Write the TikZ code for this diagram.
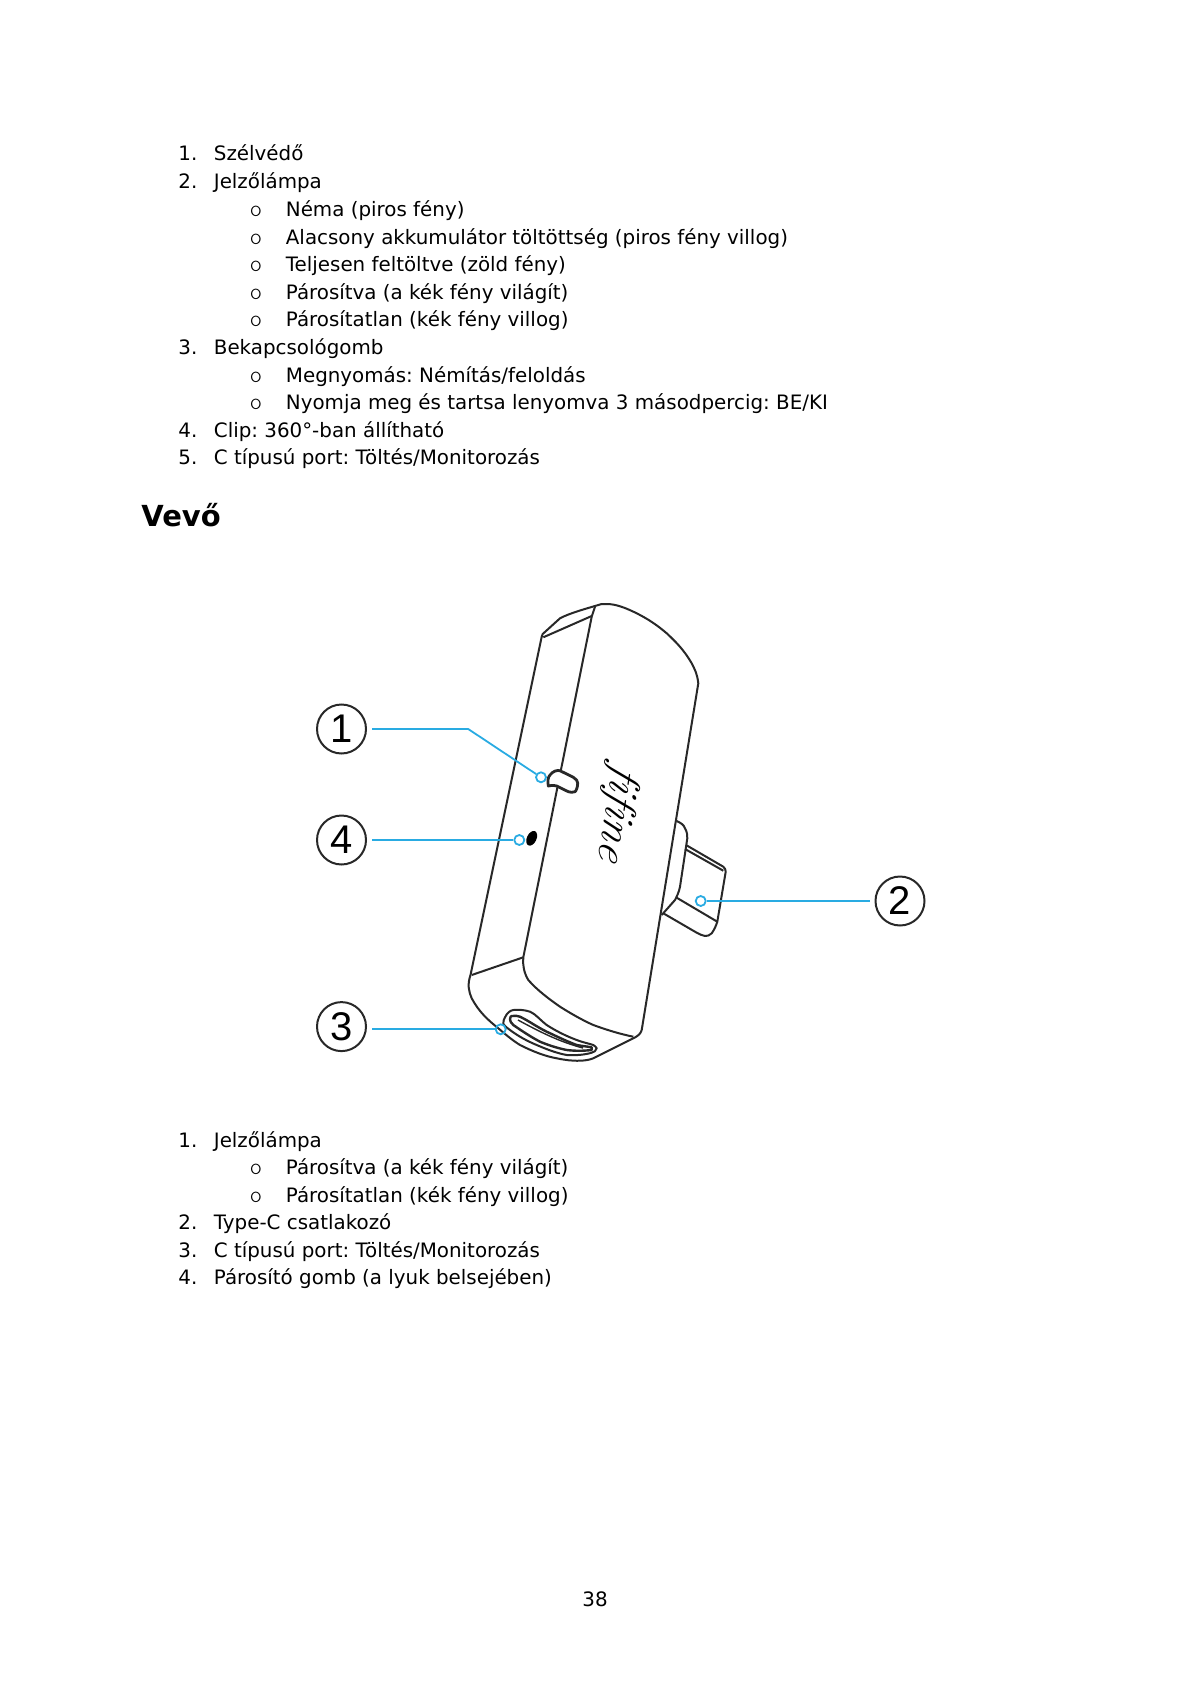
\documentclass[tikz,border=0pt]{standalone}
\usepackage{fontspec}
\setmainfont{DejaVu Sans}
\newfontfamily\markfont{Liberation Sans}
\newfontfamily\bulletfont{Latin Modern Mono Light}
\newfontfamily\logofont[Ligatures=NoCommon,ItalicFeatures={FakeSlant=0.2}]{Latin Modern Roman}
\definecolor{calloutBlue}{RGB}{41,171,226}
\definecolor{deviceLine}{RGB}{40,40,40}
\frenchspacing
\tikzset{
  itemtext/.style={anchor=base west,inner sep=0pt,font=\fontsize{9.93}{12}\selectfont},
  bullettext/.style={anchor=base,inner sep=0pt,font=\bulletfont\fontsize{12}{12}\selectfont},
  marker/.style={circle,draw=deviceLine,line width=1pt,minimum size=24.5pt,inner sep=0pt,outer sep=3pt,
    font=\markfont\fontsize{20}{20}\selectfont},
  calldot/.style={circle,draw=calloutBlue,line width=0.9pt,minimum size=5pt,inner sep=0pt},
  callout/.style={draw=calloutBlue,line width=0.9pt},
  outline/.style={draw=deviceLine,line width=1pt,line join=round},
}
\newcommand{\numline}[4]{%
  \node[itemtext] (num#1) at (178,#2) {#3.};
  \node[itemtext] (txt#1) at (213.5,#2) {#4};
}
\newcommand{\subline}[3]{%
  \node[bullettext] (bul#1) at (256,#2) {o};
  \node[itemtext] (txt#1) at (285.5,#2) {#3};
}

\begin{document}
\begin{tikzpicture}[x=0.5pt,y=-0.5pt]
  \useasboundingbox (0,0) rectangle (1191,1684);
  % --- Upper list ---
  \numline{A}{161}{1}{Szélvédő}
  \numline{B}{189}{2}{Jelzőlámpa}
  \subline{Ba}{217}{Néma (piros fény)}
  \subline{Bb}{244.6}{Alacsony akkumulátor töltöttség (piros fény villog)}
  \subline{Bc}{272}{Teljesen feltöltve (zöld fény)}
  \subline{Bd}{299.7}{Párosítva (a kék fény világít)}
  \subline{Be}{327}{Párosítatlan (kék fény villog)}
  \numline{C}{354.8}{3}{Bekapcsológomb}
  \subline{Ca}{382.4}{Megnyomás: Némítás/feloldás}
  \subline{Cb}{409.9}{Nyomja meg és tartsa lenyomva 3 másodpercig: BE/KI}
  \numline{D}{437.5}{4}{Clip: 360°-ban állítható}
  \numline{E}{465}{5}{C típusú port: Töltés/Monitorozás}
  % --- Heading ---
  \node[anchor=base west,inner sep=0pt,font=\fontsize{14.5}{17}\selectfont\bfseries] (heading) at (141,526) {Vevő};
  % --- Device body ---
  \draw[outline] (541.7,636.7) -- (470.5,975) .. controls (467,985) and (469,992) .. (471.7,998.3)
    .. controls (479,1012) and (488,1020) .. (498.3,1028.3) .. controls (505,1034) and (512,1040) .. (520,1045)
    .. controls (532,1051) and (544,1056) .. (556.7,1058.3) .. controls (565,1060) and (572,1061) .. (580,1060.7)
    .. controls (585,1060.5) and (589,1060) .. (593.3,1058.3) -- (633.3,1038.3)
    .. controls (638,1036) and (640.5,1034) .. (641.7,1030) -- (698.3,683.3)
    .. controls (697,673) and (695,670) .. (691.7,663.3) .. controls (684,650) and (676,642) .. (666.7,633.3)
    .. controls (657,625) and (648,619) .. (636.7,613.3) .. controls (626,608) and (616,604) .. (606.7,604)
    -- (601.7,604) .. controls (585,609) and (570,613) .. (560,618.3) -- (542.7,634) -- cycle;
  % front face and bevels
  \draw[outline] (595,606.7) -- (591.7,616.7) -- (523.3,957.3) .. controls (522.5,965) and (524,973) .. (528.3,980)
    .. controls (537,990) and (549,999) .. (560,1006.7) .. controls (570,1013) and (582,1020) .. (593.3,1025)
    .. controls (607,1030) and (620,1034) .. (633.3,1036.7);
  \draw[outline] (543.3,637.3) -- (591.7,616);
  \draw[outline] (471.7,975) -- (523.3,957.3);
  % --- Plug ---
  \draw[outline] (676.7,821) .. controls (681,823) and (684,825) .. (685,828.3) .. controls (687,832) and (687.5,835) .. (687.3,838.3)
    -- (680,886.7) .. controls (679,892) and (677,896) .. (675,900) -- (661.7,915);
  \draw[outline] (686,845) -- (723.3,866.7) .. controls (725,868) and (725.7,870) .. (725.7,871.7) -- (717.3,921.7)
    .. controls (716,926) and (714,930) .. (711.7,933.3) .. controls (710,935) and (707,936.5) .. (705,936)
    .. controls (702,935.5) and (699,934) .. (696.7,932.7) -- (663.3,913.3);
  \draw[outline] (685,849) -- (723.3,870.7);
  \draw[outline] (676,897.3) -- (717.3,921.7);
  % --- Button, hole, port ---
  \draw[outline,fill=white,line width=1.4pt] (548.3,786) .. controls (547.5,781) and (548,777) .. (550,775)
    .. controls (553,771) and (557,770) .. (560,770.7) -- (573.3,777.3) .. controls (576,779) and (578,781) .. (577.7,783.3)
    .. controls (577.5,788) and (576,791) .. (575,791.7) .. controls (573,792.5) and (570,792.5) .. (568.3,791.7)
    -- (556.7,786) .. controls (553,785) and (550,785.5) .. (548.3,786) -- cycle;
  \fill[black,rotate around={-25:(531.7,838.3)}] (531.7,838.3) ellipse (2.4pt and 3.9pt);
  \draw[outline] (505,1017.3) .. controls (507,1013) and (510,1010.5) .. (513.3,1010) .. controls (520,1009.5) and (525,1010) .. (530,1011.7)
    .. controls (537,1015) and (541,1021) .. (546.7,1025) .. controls (556,1031) and (566,1036) .. (576.7,1040)
    .. controls (583,1042.5) and (589,1043.5) .. (593.3,1045) .. controls (595,1046) and (596,1047) .. (596.7,1048.3)
    .. controls (596,1051) and (594,1052) .. (591.7,1052.7) .. controls (584,1055) and (575,1055.5) .. (566.7,1055)
    .. controls (556,1053) and (546,1049) .. (536.7,1045) .. controls (527,1041) and (518,1036) .. (510,1030)
    .. controls (506,1027) and (503.5,1025) .. (503.3,1023.3) .. controls (503.2,1021) and (504,1019) .. (505,1017.3) -- cycle;
  \draw[outline,line width=1.2pt] (510,1019.3) .. controls (510,1017) and (511,1016) .. (511.7,1016) .. controls (515,1015.5) and (518,1015.8) .. (520,1016.7)
    .. controls (529,1021) and (537,1027) .. (546.7,1031.7) .. controls (556,1036) and (566,1041) .. (576.7,1045)
    .. controls (582,1046) and (587,1046.5) .. (591.7,1047.3) -- (591.7,1050) .. controls (583,1051) and (575,1051) .. (566.7,1050)
    .. controls (557,1048) and (548,1045) .. (540,1041.7) .. controls (531,1037) and (522,1031) .. (513.3,1025)
    .. controls (511,1023) and (510,1021) .. (510,1019.3) -- cycle;
  \draw[outline,line width=0.7pt] (518,1020) .. controls (540,1032) and (560,1042) .. (583,1048);
  % --- Logo ---
  \node[inner sep=0pt,rotate=-99,font=\logofont\itshape\fontsize{22}{22}\selectfont] (logo) at (617,812) {fifine};
  % --- Callouts ---
  \node[marker] (mrkA) at (341.5,729) {1};
  \node[marker] (mrkD) at (341.5,840) {4};
  \node[marker] (mrkC) at (341.5,1026.6) {3};
  \node[marker] (mrkB) at (900,901) {2};
  \node[calldot] (dotA) at (541,777.3) {};
  \node[calldot] (dotD) at (519.3,840) {};
  \node[calldot] (dotC) at (500.7,1029.3) {};
  \node[calldot] (dotB) at (700.7,901) {};
  \coordinate (bendA) at (468.2,729);
  \draw[callout] (mrkA) -- (bendA) -- (dotA);
  \draw[callout] (mrkD) -- (dotD);
  \draw[callout] (mrkC.east |- dotC) -- (dotC);
  \draw[callout] (mrkB) -- (dotB);
  % --- Lower list ---
  \numline{F}{1147}{1}{Jelzőlámpa}
  \subline{Fa}{1174.5}{Párosítva (a kék fény világít)}
  \subline{Fb}{1202}{Párosítatlan (kék fény villog)}
  \numline{G}{1229.5}{2}{Type-C csatlakozó}
  \numline{H}{1257}{3}{C típusú port: Töltés/Monitorozás}
  \numline{I}{1284.5}{4}{Párosító gomb (a lyuk belsejében)}
  % --- Page number ---
  \node[anchor=base,inner sep=0pt,font=\fontsize{9.93}{12}\selectfont] (pagenum) at (595,1606) {38};
\end{tikzpicture}
\end{document}
